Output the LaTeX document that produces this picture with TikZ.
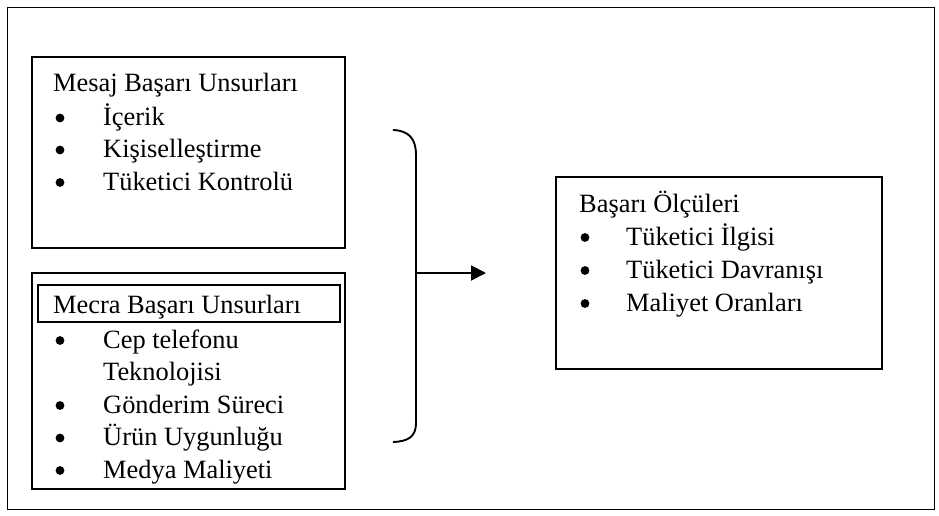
\documentclass[tikz,border=0pt]{standalone}
\usepackage{fontspec}
\setmainfont{Liberation Serif}
\usetikzlibrary{arrows.meta}
\tikzset{
  box/.style={draw, line width=1.9pt, inner sep=0pt},
  txt/.style={inner sep=0pt, anchor=base west, font=\fontsize{26.4}{30}\selectfont},
  bul/.style={fill, circle, inner sep=0pt, minimum size=8.8pt},
  conn/.style={line width=1.9pt},
}
\begin{document}
\begin{tikzpicture}[x=1pt,y=-1pt]
\useasboundingbox (0,0) rectangle (939,516);
\fill[white] (0,0) rectangle (939,516);
% outer frame
\node[box, minimum width=927pt, minimum height=502pt] (frame) at (471,258.5) {};
% message box
\node[box, minimum width=313pt, minimum height=191pt] (mesaj) at (188.5,152.5) {};
\node[txt] (m0) at (53,92) {Mesaj Başarı Unsurları};
\node[bul] (mb1) at (60,118) {};
\node[txt] (m1) at (103,125) {İçerik};
\node[bul] (mb2) at (60,150) {};
\node[txt] (m2) at (103,157.5) {Kişiselleştirme};
\node[bul] (mb3) at (60,182.5) {};
\node[txt] (m3) at (103,190) {Tüketici Kontrolü};
% medium box
\node[box, minimum width=313pt, minimum height=216pt] (mecra) at (188.5,381) {};
\node[box, minimum width=302pt, minimum height=37pt] (mecraT) at (189,303.5) {};
\node[txt] (c0) at (53,313) {Mecra Başarı Unsurları};
\node[bul] (cb1) at (60,340.5) {};
\node[txt] (c1) at (103,348) {Cep telefonu};
\node[txt] (c1b) at (103,380.5) {Teknolojisi};
\node[bul] (cb2) at (60,405.5) {};
\node[txt] (c2) at (103,413) {Gönderim Süreci};
\node[bul] (cb3) at (60,438) {};
\node[txt] (c3) at (103,445.5) {Ürün Uygunluğu};
\node[bul] (cb4) at (60,470.5) {};
\node[txt] (c4) at (103,478) {Medya Maliyeti};
% result box
\node[box, minimum width=326pt, minimum height=192pt] (olcu) at (719,273) {};
\node[txt] (o0) at (579,212) {Başarı Ölçüleri};
\node[bul] (ob1) at (585,237.5) {};
\node[txt] (o1) at (626,245) {Tüketici İlgisi};
\node[bul] (ob2) at (585,270.5) {};
\node[txt] (o2) at (626,278) {Tüketici Davranışı};
\node[bul] (ob3) at (585,303.5) {};
\node[txt] (o3) at (626,311) {Maliyet Oranları};
% bracket and arrow
\coordinate (brTop) at (393,130);
\coordinate (brBot) at (393,442);
\coordinate (brMid) at (416,273);
\coordinate (arrEnd) at (486,273);
\draw[conn] (brTop) .. controls (409,130.5) and (416,139) .. (416,155)
  -- (416,423) .. controls (416,436) and (409,441.5) .. (brBot);
\draw[conn, -{Triangle[length=15pt,width=15pt]}] (brMid) -- (arrEnd);
\end{tikzpicture}
\end{document}
